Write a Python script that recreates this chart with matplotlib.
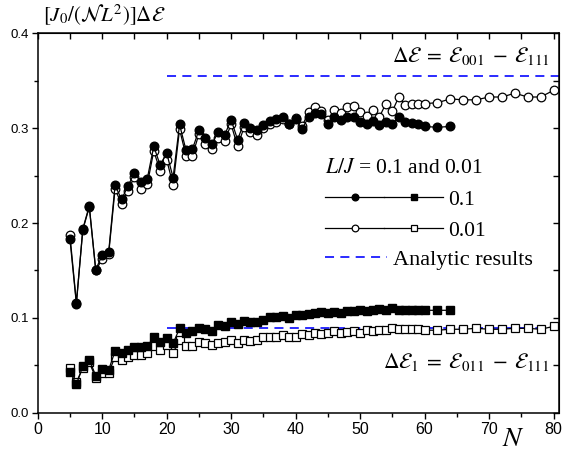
import matplotlib
matplotlib.use("Agg")
import matplotlib.pyplot as plt
from matplotlib.lines import Line2D
from matplotlib.legend_handler import HandlerTuple
from matplotlib.ticker import MultipleLocator

plt.rcParams['mathtext.fontset'] = 'stix'
plt.rcParams['font.family'] = ['Liberation Serif', 'DejaVu Serif']

# ---------------- data ----------------
N_dense = list(range(5, 61))
N_filled = N_dense + [62, 64]
N_open = N_dense + list(range(62, 81, 2))

dE_01 = [0.183, 0.115, 0.194, 0.218, 0.151, 0.166, 0.169, 0.240, 0.225, 0.239,
         0.253, 0.243, 0.247, 0.281, 0.261, 0.274, 0.248, 0.304, 0.277, 0.278,
         0.298, 0.290, 0.283, 0.296, 0.293, 0.309, 0.288, 0.306, 0.300, 0.298,
         0.303, 0.308, 0.310, 0.312, 0.304, 0.310, 0.299, 0.312, 0.316, 0.315,
         0.304, 0.312, 0.309, 0.312, 0.312, 0.307, 0.304, 0.308, 0.303, 0.307,
         0.304, 0.312, 0.307, 0.306, 0.305, 0.302, 0.301, 0.302]

dE_001 = [0.187, 0.116, 0.193, 0.217, 0.150, 0.162, 0.167, 0.236, 0.220, 0.234,
          0.249, 0.236, 0.241, 0.276, 0.255, 0.267, 0.240, 0.299, 0.271, 0.271,
          0.294, 0.283, 0.278, 0.290, 0.287, 0.304, 0.281, 0.301, 0.296, 0.293,
          0.300, 0.305, 0.307, 0.310, 0.305, 0.311, 0.302, 0.317, 0.322, 0.318,
          0.309, 0.319, 0.316, 0.322, 0.324, 0.317, 0.313, 0.319, 0.312, 0.326,
          0.318, 0.333, 0.325, 0.326, 0.326, 0.326,
          0.327, 0.331, 0.330, 0.330, 0.333, 0.333, 0.337, 0.333, 0.333, 0.340]

dE1_01 = [0.043, 0.030, 0.049, 0.056, 0.039, 0.046, 0.045, 0.065, 0.063, 0.066,
          0.069, 0.069, 0.070, 0.080, 0.075, 0.079, 0.073, 0.089, 0.084, 0.086,
          0.089, 0.088, 0.086, 0.092, 0.091, 0.096, 0.094, 0.097, 0.096, 0.096,
          0.098, 0.101, 0.101, 0.102, 0.100, 0.103, 0.103, 0.104, 0.105, 0.106,
          0.105, 0.106, 0.105, 0.107, 0.107, 0.108, 0.107, 0.108, 0.109, 0.108,
          0.110, 0.108, 0.108, 0.108, 0.108, 0.108, 0.108, 0.108]

dE1_001 = [0.047, 0.032, 0.047, 0.053, 0.037, 0.042, 0.042, 0.059, 0.056, 0.059,
           0.061, 0.061, 0.063, 0.070, 0.066, 0.071, 0.063, 0.077, 0.070, 0.070,
           0.075, 0.073, 0.071, 0.074, 0.075, 0.077, 0.073, 0.077, 0.076, 0.077,
           0.080, 0.080, 0.080, 0.082, 0.080, 0.080, 0.083, 0.082, 0.084, 0.083,
           0.084, 0.086, 0.084, 0.085, 0.086, 0.084, 0.087, 0.086, 0.087, 0.087,
           0.089, 0.088, 0.088, 0.088, 0.088, 0.087,
           0.087, 0.088, 0.088, 0.089, 0.088, 0.088, 0.089, 0.089, 0.088, 0.091]

analytic_N = [20, 80.9]
analytic_dE = 0.355
analytic_dE1 = 0.089

x_ticks = [0, 10, 20, 30, 40, 50, 60, 70, 80]
y_ticks = [0.0, 0.1, 0.2, 0.3, 0.4]

# ---------------- figure ----------------
fig = plt.figure(figsize=(5.66, 4.55), dpi=100)
ax = fig.add_axes([0.0666, 0.093, 0.9216, 0.8334])

ms_c = 6.2
ms_s = 5.6
lw = 0.9
blue = '#1a1aff'
dash = (0, (5, 3.5))

ax.plot(analytic_N, [analytic_dE] * 2, ls=dash, color=blue, lw=1.3, zorder=1)
ax.plot(analytic_N, [analytic_dE1] * 2, ls=dash, color=blue, lw=1.3, zorder=1)

ax.plot(N_open, dE_001, color='k', lw=lw, marker='o', ms=ms_c, mfc='white', mec='k', mew=0.9, zorder=2)
ax.plot(N_filled, dE_01, color='k', lw=lw, marker='o', ms=ms_c, mfc='k', mec='k', zorder=3)
ax.plot(N_open, dE1_001, color='k', lw=lw, marker='s', ms=ms_s, mfc='white', mec='k', mew=0.9, zorder=2)
ax.plot(N_filled, dE1_01, color='k', lw=lw, marker='s', ms=ms_s, mfc='k', mec='k', zorder=3)

ax.set_xlim(0, 80.9)
ax.set_ylim(0, 0.4)
ax.set_xticks(x_ticks)
ax.set_yticks(y_ticks)
ax.xaxis.set_minor_locator(MultipleLocator(5))
ax.yaxis.set_minor_locator(MultipleLocator(0.05))
ax.set_xticklabels([str(v) for v in x_ticks], family='Liberation Sans', fontsize=11.5)
ax.set_yticklabels(['%.1f' % v for v in y_ticks], family='Liberation Sans', fontsize=9.5)
ax.tick_params(which='major', direction='out', length=4.5, width=1, pad=2)
ax.tick_params(which='minor', direction='out', length=3, width=1)
for s in ax.spines.values():
    s.set_linewidth(1.1)

secx = ax.secondary_xaxis('top')
secx.set_xticks(x_ticks)
secx.xaxis.set_minor_locator(MultipleLocator(5))
secx.tick_params(which='both', direction='in', length=4, width=1, labeltop=False)
secy = ax.secondary_yaxis('right')
secy.set_yticks(y_ticks)
secy.yaxis.set_minor_locator(MultipleLocator(0.05))
secy.tick_params(which='both', direction='in', length=4, width=1, labelright=False)

# labels
fig.text(0.076, 0.967, r'$[J_0/(\mathcal{N}L^2)]\Delta\mathcal{E}$', fontsize=15,
         ha='left', va='center')
fig.text(0.907, 0.033, r'$N$', fontsize=20, ha='center', va='center')

ax.text(0.982, 0.94, r'$\Delta\mathcal{E}\;=\;\mathcal{E}_{001}\;-\;\mathcal{E}_{111}$',
        transform=ax.transAxes, fontsize=15.5, ha='right', va='center')
ax.text(0.982, 0.134, r'$\Delta\mathcal{E}_{1}\;=\;\mathcal{E}_{011}\;-\;\mathcal{E}_{111}$',
        transform=ax.transAxes, fontsize=15.5, ha='right', va='center')

ax.text(0.5508, 0.6427, r'$L/J$ = 0.1 and 0.01', transform=ax.transAxes,
        fontsize=15.5, ha='left', va='center')

lms = 4.8
h1 = (Line2D([], [], color='k', lw=lw, marker='o', ms=lms, mfc='k'),
      Line2D([], [], color='k', lw=lw, marker='s', ms=lms, mfc='k'))
h2 = (Line2D([], [], color='k', lw=lw, marker='o', ms=lms, mfc='white', mew=0.9),
      Line2D([], [], color='k', lw=lw, marker='s', ms=lms, mfc='white', mew=0.9))
h3 = Line2D([], [], color=blue, lw=1.3, ls=dash)

leg1 = ax.legend([h1, h2], ['0.1', '0.01'],
                 handler_map={tuple: HandlerTuple(ndivide=None, pad=0)},
                 loc='center left', bbox_to_anchor=(0.5508, 0.5206),
                 frameon=False, fontsize=15.5, handlelength=5.5, handletextpad=0.23,
                 labelspacing=0.49, borderpad=0, borderaxespad=0, numpoints=1)
ax.add_artist(leg1)
leg2 = ax.legend([h3], ['Analytic results'],
                 loc='center left', bbox_to_anchor=(0.5508, 0.4027),
                 frameon=False, fontsize=16, handlelength=2.8, handletextpad=0.27,
                 borderpad=0, borderaxespad=0)

fig.savefig('out.png', dpi=100)
